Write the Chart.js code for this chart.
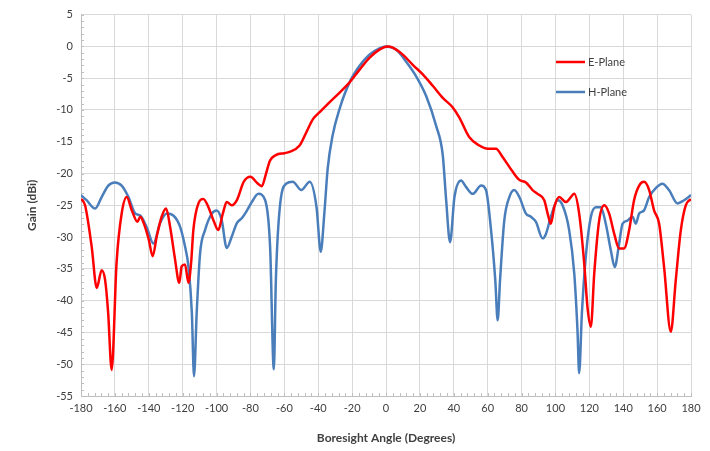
<!DOCTYPE html>
<html>
<head>
<meta charset="utf-8">
<script src="https://cdn.jsdelivr.net/npm/chart.js@4/dist/chart.umd.min.js"></script>
<style>
  html, body { margin: 0; padding: 0; background: #fff; }
  #wrap { width: 710px; height: 451px; }
</style>
</head>
<body>
<div id="wrap"><canvas id="c" width="710" height="451"></canvas></div>
<script>
// E-Plane gain (dBi) vs boresight angle (deg)
const eAngles = [-180, -177.6, -173.7, -170.7, -167.8, -165.8, -164, -161.9, -159, -156, -153, -150, -146.7, -145, -143, -140, -137.7, -135.3, -132.4, -129.8, -127.4, -124.5, -122, -120.6, -118.6, -116.6, -115, -113.7, -110.7, -107.8, -104.8, -101.5, -99, -96.3, -94, -91, -88, -84, -80, -76, -73.3, -71, -68.5, -65, -60, -57, -51, -47, -43, -39.3, -33.4, -27.5, -21.6, -15.7, -9.8, -3.9, 1, 4, 9.9, 15.8, 21.7, 27.6, 33.5, 39.4, 43.3, 49.2, 55.1, 60, 64.9, 68.8, 74.7, 78.7, 82.6, 86.5, 89.5, 93.4, 95.4, 97.3, 99.3, 102.2, 106.2, 109.1, 111.1, 114, 117, 118.9, 120.9, 122.9, 125.8, 128.8, 131.7, 134.7, 137.6, 140.5, 143.5, 146.4, 149.4, 152.3, 155.3, 158.2, 161.2, 164.1, 168.1, 171, 174, 176.9, 180];
const eGain = [-24, -25, -31.5, -38, -35.2, -36.7, -41.8, -50.9, -34, -26.3, -23.7, -25.8, -27.6, -26.8, -27.8, -30.4, -33, -29.9, -26.8, -25.5, -28.4, -33.5, -37.2, -34.6, -34.3, -37.2, -34, -28.9, -24.7, -24, -25.3, -27.6, -28.9, -26.3, -24.5, -25, -24.2, -21.3, -20.5, -21.5, -22, -20.2, -18, -17.1, -16.8, -16.6, -15.6, -13.5, -11.4, -10.4, -8.8, -7.3, -5.7, -3.7, -1.8, -0.5, 0, -0.2, -1.3, -2.9, -4.4, -6.2, -8.1, -9.6, -11.2, -14.3, -15.6, -16.1, -16.1, -17.4, -19.7, -21, -21.4, -22.6, -23.2, -24.2, -26.3, -27.9, -25.3, -23.7, -24.5, -23.7, -23.2, -26.3, -34.2, -41, -44.1, -35.7, -27.4, -25, -26.3, -29.5, -31.8, -31.8, -28.9, -24.2, -21.9, -21.3, -22.6, -25.8, -27.9, -34.7, -44.9, -36.8, -28.9, -25, -24];

// H-Plane gain (dBi) vs boresight angle (deg)
const hAngles = [-180, -176.7, -171.7, -167.8, -163.9, -160, -156, -152, -148, -145, -141, -137.3, -133.3, -129.4, -125.5, -121.5, -118.6, -116.6, -114.6, -113.3, -111.7, -109.7, -106.8, -102.8, -99.9, -97, -94, -91, -88, -85, -82, -79.2, -75.3, -71.3, -68.4, -66.2, -65, -63, -59, -55, -50, -45, -41, -38.5, -36.4, -34.4, -31.5, -27.5, -21.6, -15.7, -9.8, -3.9, 0, 5.9, 11.9, 17.8, 23.7, 29.6, 33.5, 35.5, 37.8, 40.4, 44.3, 47.2, 51.2, 56.1, 59, 62, 64.5, 65.9, 67.3, 69.8, 72.8, 75.7, 78.7, 82.6, 85.5, 88.5, 92.4, 94.4, 97.3, 101.3, 104.2, 108.1, 111.1, 113, 114, 115.6, 117.9, 120.9, 123.9, 126.8, 129.7, 132.7, 135, 137.6, 139.6, 142.5, 145.5, 147.4, 149.4, 152.3, 155.3, 159.2, 163.1, 167, 172, 175.9, 180];
const hGain = [-23.4, -24.2, -25.5, -23.7, -21.9, -21.4, -21.9, -23.7, -26.3, -26.6, -28.6, -31, -27.8, -26.3, -26.6, -28.4, -31.5, -34.6, -41.8, -51.9, -41.8, -32.5, -28.9, -26.3, -25.8, -27.3, -31.7, -29.9, -27.8, -27, -25.8, -24.5, -23.2, -24.2, -31.5, -50.8, -36.8, -26.3, -21.6, -21.3, -22.6, -21.3, -25.3, -32.3, -26.3, -19.2, -14, -9.9, -5.7, -3.1, -1.3, -0.3, 0, -0.5, -2.4, -4.7, -7.8, -12.5, -17.1, -24.2, -30.8, -23.7, -21.1, -22.1, -23.2, -21.9, -22.6, -28.9, -36.8, -43.1, -36.8, -27.4, -23.7, -22.6, -23.7, -26.3, -26.8, -27.6, -30.2, -29.5, -26.8, -24.2, -25, -28.9, -35.7, -44.6, -51.4, -42, -33.1, -26.8, -25.3, -25.3, -27.9, -32.1, -34.7, -31, -27.9, -27.4, -26.8, -27.9, -26.3, -25.8, -23.7, -22.3, -21.6, -22.6, -24.7, -24.2, -23.4];

const seriesNames = ["E-Plane", "H-Plane"];
const seriesColors = ["#ff0000", "#4a7ebb"];

const toPoints = (xs, ys) => xs.map((x, i) => ({ x: x, y: ys[i] }));

// legend drawn inside the plot, top right
const insideLegend = {
  id: "insideLegend",
  afterDraw(chart) {
    const ctx = chart.ctx;
    ctx.save();
    ctx.font = "11px Lato, 'Open Sans', sans-serif";
    ctx.textBaseline = "middle";
    chart.data.datasets.forEach((ds, i) => {
      const y = 62 + i * 30;
      ctx.strokeStyle = ds.borderColor;
      ctx.lineWidth = 2.5;
      ctx.beginPath();
      ctx.moveTo(556, y);
      ctx.lineTo(585, y);
      ctx.stroke();
      ctx.fillStyle = "#404040";
      ctx.fillText(ds.label, 588, y);
    });
    ctx.restore();
  }
};

// small minor tick marks along left and bottom axes
const minorTicks = {
  id: "minorTicks",
  beforeDatasetsDraw(chart) {
    const { ctx, chartArea, scales } = chart;
    ctx.save();
    ctx.strokeStyle = "#bfbfbf";
    ctx.lineWidth = 1;
    ctx.beginPath();
    for (let d = -180; d <= 180; d += 4) {
      const x = Math.round(scales.x.getPixelForValue(d)) + 0.5;
      ctx.moveTo(x, chartArea.bottom);
      ctx.lineTo(x, chartArea.bottom - 3);
    }
    for (let v = -55; v <= 5; v += 1) {
      const y = Math.round(scales.y.getPixelForValue(v)) + 0.5;
      ctx.moveTo(chartArea.left, y);
      ctx.lineTo(chartArea.left + 3, y);
    }
    ctx.stroke();
    ctx.restore();
  }
};

new Chart(document.getElementById("c").getContext("2d"), {
  type: "line",
  data: {
    datasets: [
      {
        label: seriesNames[0],
        data: toPoints(eAngles, eGain),
        borderColor: seriesColors[0],
        backgroundColor: seriesColors[0],
        borderWidth: 2.5,
        pointRadius: 0,
        cubicInterpolationMode: "monotone"
      },
      {
        label: seriesNames[1],
        data: toPoints(hAngles, hGain),
        borderColor: seriesColors[1],
        backgroundColor: seriesColors[1],
        borderWidth: 2.5,
        pointRadius: 0,
        cubicInterpolationMode: "monotone"
      }
    ]
  },
  options: {
    responsive: false,
    animation: false,
    layout: { padding: { top: 11, right: 19, left: 25, bottom: 0 } },
    plugins: {
      legend: { display: false },
      tooltip: { enabled: false }
    },
    scales: {
      x: {
        type: "linear",
        min: -180,
        max: 180,
        ticks: {
          stepSize: 20,
          color: "#404040",
          font: { family: "Lato, 'Open Sans', sans-serif", size: 11 },
          padding: 6,
          maxRotation: 0
        },
        grid: { color: "#d9d9d9", drawTicks: false },
        border: { color: "#bfbfbf" },
        title: {
          display: true,
          text: "Boresight Angle (Degrees)",
          color: "#404040",
          font: { family: "Lato, 'Open Sans', sans-serif", size: 12, weight: "bold" },
          padding: { top: 6, bottom: 6 }
        },
        afterFit(scale) { scale.height = 55; }
      },
      y: {
        min: -55,
        max: 5,
        ticks: {
          stepSize: 5,
          color: "#404040",
          font: { family: "Lato, 'Open Sans', sans-serif", size: 11 },
          padding: 8
        },
        grid: { color: "#d9d9d9", drawTicks: false },
        border: { color: "#bfbfbf" },
        title: {
          display: true,
          text: "Gain (dBi)",
          color: "#404040",
          font: { family: "Lato, 'Open Sans', sans-serif", size: 12, weight: "bold" },
          padding: { top: 0, bottom: 4 }
        },
        afterFit(scale) { scale.width = 56; }
      }
    }
  },
  plugins: [insideLegend, minorTicks]
});
</script>
</body>
</html>
